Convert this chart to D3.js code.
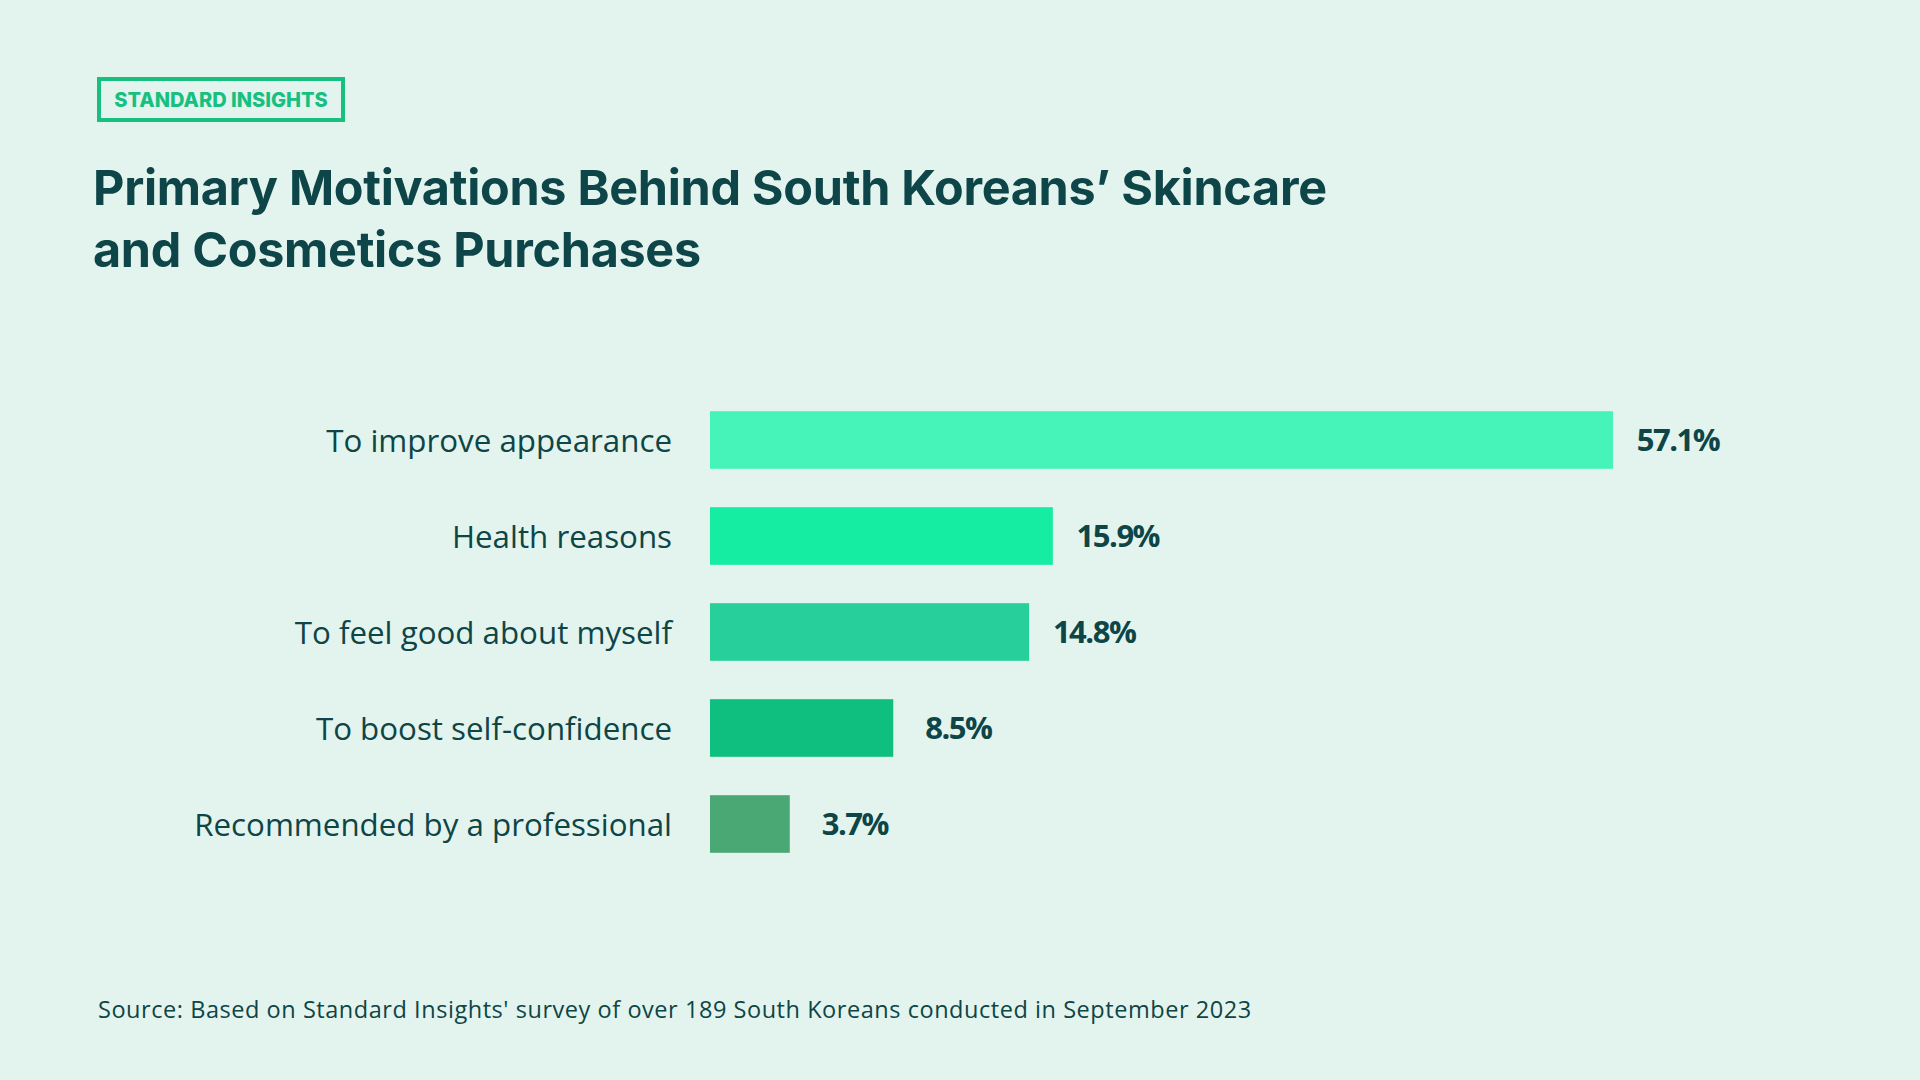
<!DOCTYPE html>
<html>
<head>
<meta charset="utf-8">
<script src="https://cdn.jsdelivr.net/npm/d3@7"></script>
<style>
  html, body { margin: 0; padding: 0; background: #E3F4EE; }
  svg { display: block; }
</style>
</head>
<body>
<svg id="chart" width="1920" height="1080"></svg>
<script>
// ---- Data ----
const categories = [
  "To improve appearance",
  "Health reasons",
  "To feel good about myself",
  "To boost self-confidence",
  "Recommended by a professional"
];
const values = [57.1, 15.9, 14.8, 8.5, 3.7];
const valueLabels = ["57.1%", "15.9%", "14.8%", "8.5%", "3.7%"];
const barColors = ["#46F4B9", "#14EDA2", "#27CF9A", "#0FBF7F", "#4AA874"];
const badgeText = "STANDARD INSIGHTS";
const titleLines = [
  "Primary Motivations Behind South Koreans\u2019 Skincare",
  "and Cosmetics Purchases"
];
const sourceText = "Source: Based on Standard Insights' survey of over 189 South Koreans conducted in September 2023";

// ---- Layout ----
const W = 1920, H = 1080;
const textColor = "#0E4546";
const bodyFont = "'Open Sans', Lato, sans-serif";
const titleFont = "Inter, Lato, sans-serif";

const svg = d3.select("#chart");
svg.append("rect").attr("width", W).attr("height", H).attr("fill", "#E3F4EE");

// Badge
svg.append("rect")
  .attr("x", 99).attr("y", 79).attr("width", 244).attr("height", 41)
  .attr("fill", "none").attr("stroke", "#18C07F").attr("stroke-width", 4);
svg.append("text")
  .attr("x", 221).attr("y", 107)
  .attr("text-anchor", "middle")
  .attr("font-family", titleFont).attr("font-weight", 800)
  .attr("font-size", 20).attr("fill", "#18C07F")
  .text(badgeText);

// Title
svg.append("g").selectAll("text").data(titleLines).join("text")
  .attr("x", 93)
  .attr("y", (d, i) => 205 + i * 62)
  .attr("font-family", titleFont).attr("font-weight", 700)
  .attr("font-size", 48.5).attr("fill", "#0D4548")
  .attr("letter-spacing", -0.3)
  .text(d => d);

// Scales
const x = d3.scaleLinear().domain([0, 16, 57.1]).range([0, 345, 903]);
const y = d3.scaleBand().domain(categories).range([392, 872]).paddingInner(0.4).paddingOuter(0.2);
const x0 = 710;

const rows = svg.append("g").selectAll("g").data(categories).join("g");

rows.append("rect")
  .attr("x", x0)
  .attr("y", d => y(d))
  .attr("width", (d, i) => x(values[i]))
  .attr("height", y.bandwidth())
  .attr("fill", (d, i) => barColors[i]);

rows.append("text")
  .attr("x", x0 - 38)
  .attr("y", d => y(d) + y.bandwidth() / 2)
  .attr("dy", "0.38em")
  .attr("text-anchor", "end")
  .attr("font-family", bodyFont).attr("font-size", 31.3)
  .attr("fill", textColor)
  .text(d => d);

rows.append("text")
  .attr("x", (d, i) => x0 + x(values[i]) + 65)
  .attr("y", d => y(d) + y.bandwidth() / 2)
  .attr("dy", "0.36em")
  .attr("text-anchor", "middle")
  .attr("font-family", bodyFont).attr("font-weight", 700).attr("font-size", 31)
  .attr("letter-spacing", -1.5)
  .attr("fill", textColor)
  .text((d, i) => valueLabels[i]);

// Source
svg.append("text")
  .attr("x", 98).attr("y", 1018)
  .attr("font-family", bodyFont).attr("font-size", 23.5)
  .attr("letter-spacing", 0.55)
  .attr("fill", textColor)
  .text(sourceText);
</script>
</body>
</html>
